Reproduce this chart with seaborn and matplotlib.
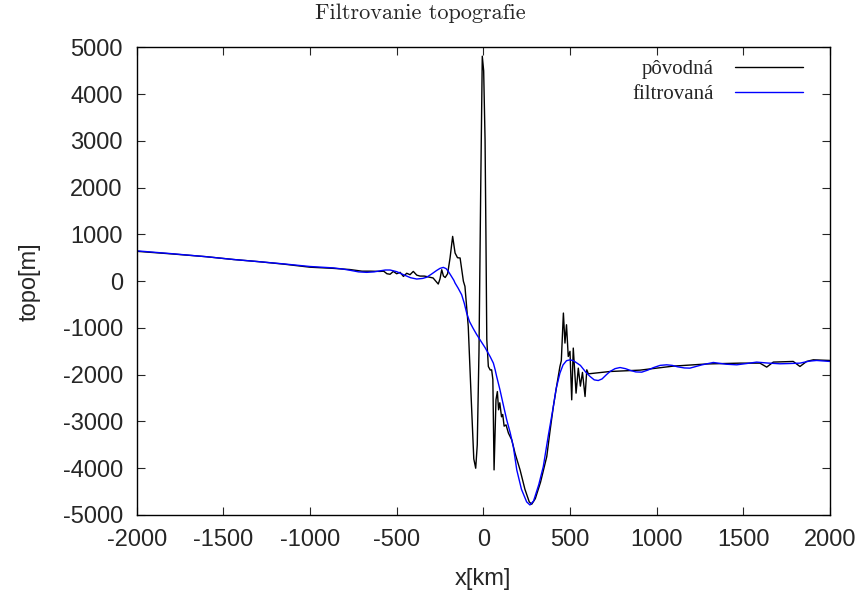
import matplotlib
matplotlib.use('Agg')
import numpy as np
import pandas as pd
import matplotlib.pyplot as plt
import seaborn as sns

# --- data (x in km, topo in m) ---
x_orig = [-2000, -1800, -1600, -1442, -1300, -1150, -1000, -865, -770, -700,
          -650, -596, -575, -556, -538, -519, -500, -480, -461, -442,
          -423, -404, -384, -365, -340, -315, -290, -260, -250, -240,
          -230, -220, -206, -192, -177, -163, -149, -134, -115, -106,
          -87, -70, -55, -44, -35, -25, -15, -6, 2, 10,
          15, 20, 29, 40, 48, 55, 62, 73, 81, 88,
          95, 105, 112, 120, 131, 145, 164, 183, 212, 240,
          265, 279, 300, 330, 366, 385, 404, 425, 442, 450,
          462, 471, 480, 490, 500, 510, 519, 535, 548, 560,
          572, 587, 597, 606, 731, 904, 1096, 1289, 1481, 1596,
          1635, 1673, 1788, 1827, 1865, 1904, 2000]
topo_orig = [640, 585, 525, 465, 420, 365, 300, 275, 250, 215,
             215, 210, 215, 160, 149, 210, 160, 190, 103, 170,
             140, 210, 130, 110, 110, 90, 70, -60, 50, 246,
             110, 80, 160, 497, 959, 604, 503, 497, 0, -111,
             -968, -2500, -3800, -4000, -3500, -1500, 2000, 4814, 4500, 3030,
             1000, -1250, -1824, -1900, -1895, -2100, -4036, -2537, -2360, -2750,
             -2600, -2900, -2850, -3100, -3073, -3250, -3394, -3679, -4036, -4450,
             -4720, -4771, -4650, -4300, -3752, -3200, -2681, -2200, -1824, -1700,
             -681, -1323, -931, -1610, -1500, -2537, -1430, -2394, -1859, -2244,
             -1950, -2466, -1895, -1981, -1931, -1902, -1816, -1770, -1752, -1752,
             -1837, -1730, -1716, -1824, -1716, -1681, -1695]

x_filt = [-2000, -1800, -1600, -1442, -1300, -1150, -1000, -865, -810, -770,
          -720, -673, -630, -600, -565, -538, -500, -461, -420, -384,
          -350, -327, -300, -269, -250, -231, -215, -202, -190, -180,
          -170, -163, -145, -125, -110, -96, -80, -60, -40, -19,
          10, 39, 58, 68, 77, 96, 115, 135, 155, 173,
          193, 220, 250, 269, 290, 320, 346, 375, 404, 420,
          442, 460, 480, 500, 520, 540, 560, 590, 616, 640,
          663, 685, 710, 731, 760, 789, 820, 850, 880, 914,
          950, 980, 1020, 1058, 1090, 1120, 1160, 1192, 1260, 1327,
          1400, 1462, 1520, 1577, 1640, 1712, 1770, 1827, 1880, 1923,
          2000]
topo_filt = [650, 590, 525, 465, 420, 370, 315, 285, 260, 235,
             200, 190, 200, 220, 240, 240, 205, 140, 75, 47,
             60, 85, 150, 231, 275, 296, 270, 210, 140, 80,
             20, -39, -150, -289, -470, -681, -860, -1000, -1130, -1253,
             -1420, -1610, -1752, -1890, -2038, -2323, -2640, -2966, -3240, -3537,
             -4036, -4450, -4720, -4786, -4700, -4350, -3966, -3300, -2681, -2300,
             -1966, -1790, -1700, -1681, -1700, -1750, -1800, -1940, -2038, -2110,
             -2124, -2090, -2000, -1931, -1870, -1846, -1870, -1910, -1940, -1945,
             -1900, -1850, -1800, -1788, -1800, -1830, -1855, -1859, -1790, -1738,
             -1775, -1788, -1760, -1730, -1750, -1766, -1760, -1752, -1710, -1695,
             -1716]

labels = ['pôvodná', 'filtrovaná']
colors = {'pôvodná': '#000000', 'filtrovaná': '#0000ff'}

df = pd.concat([
    pd.DataFrame({'x': x_orig, 'topo': topo_orig, 'serie': labels[0]}),
    pd.DataFrame({'x': x_filt, 'topo': topo_filt, 'serie': labels[1]}),
], ignore_index=True)

sns.set_style('ticks')
plt.rcParams['font.family'] = ['Liberation Sans', 'DejaVu Sans']
plt.rcParams['axes.unicode_minus'] = False

fig = plt.figure(figsize=(8.64, 5.95), dpi=100)
ax = fig.add_axes([0.1582, 0.1345, 0.9606 - 0.1582, 0.9202 - 0.1345])

sns.lineplot(data=df, x='x', y='topo', hue='serie', palette=colors,
             estimator=None, sort=False, linewidth=1.0, ax=ax)

ax.set_xlim(-2000, 2000)
ax.set_ylim(-5000, 5000)
ax.set_xticks(np.arange(-2000, 2001, 500))
ax.set_yticks(np.arange(-5000, 5001, 1000))
ax.tick_params(direction='in', length=6, width=0.8, top=True, right=True,
               labelsize=17, pad=10)
for s in ax.spines.values():
    s.set_visible(True)
    s.set_linewidth(1.0)
    s.set_color('black')

ax.set_xlabel('x[km]', fontsize=17, labelpad=12)
ax.set_ylabel('topo[m]', fontsize=17, labelpad=16)

# legend: text on the left, sample line on the right (gnuplot style)
leg = ax.legend(loc='upper right', bbox_to_anchor=(0.9615, 0.974),
                frameon=False, markerfirst=False, borderpad=0, borderaxespad=0,
                handlelength=3.3, handletextpad=1.0, labelspacing=0.26,
                prop={'family': 'Liberation Serif', 'size': 15})
for line in leg.get_lines():
    line.set_linewidth(1.0)

fig.text(0.487, 0.978, 'Filtrovanie topografie', ha='center', va='center',
         family=['cmr10', 'DejaVu Serif'], fontsize=16)

plt.savefig('out.png', dpi=100)
